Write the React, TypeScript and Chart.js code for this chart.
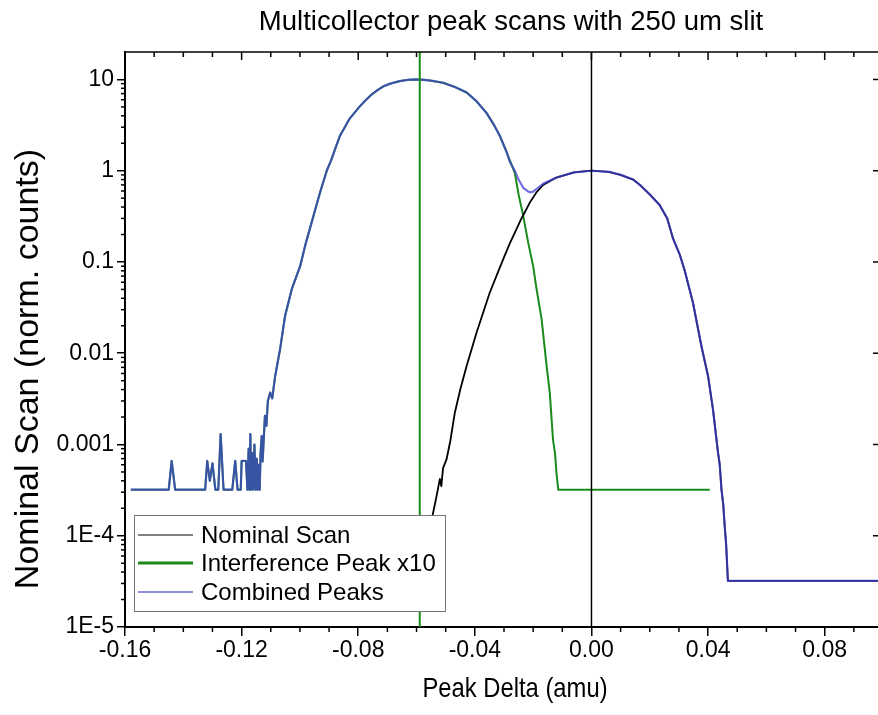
import React, { useEffect, useRef } from 'react';
import { Chart, registerables } from 'chart.js';

Chart.register(...registerables);

const W = 895;
const H = 715;
const FONT = "'Liberation Sans', Arial, sans-serif";

const titleText = 'Multicollector peak scans with 250 um slit';
const xAxisTitle = 'Peak Delta (amu)';
const yAxisTitle = 'Nominal Scan (norm. counts)';

const xMin = -0.16;
const xMax = 0.1;
const yMin = 1e-5;
const yMax = 20;

const xTickValues = [-0.16, -0.12, -0.08, -0.04, 0, 0.04, 0.08];
const xTickLabels = ['-0.16', '-0.12', '-0.08', '-0.04', '0.00', '0.04', '0.08'];
const yTickValues = [1e-5, 1e-4, 1e-3, 1e-2, 1e-1, 1, 10];
const yTickLabels = ['1E-5', '1E-4', '0.001', '0.01', '0.1', '1', '10'];

// Interference peak (x10)
const interferenceX = [
  -0.158, -0.145, -0.144, -0.1428, -0.1325, -0.1318, -0.1309, -0.13, -0.129, -0.128,
  -0.1272, -0.1262, -0.1232, -0.1222, -0.1214, -0.1203, -0.12, -0.1185, -0.118, -0.1176,
  -0.1173, -0.117, -0.1167, -0.1163, -0.116, -0.1156, -0.1152, -0.1148, -0.1145, -0.1141,
  -0.1138, -0.1135, -0.1131, -0.1128, -0.112, -0.1115, -0.111, -0.1102, -0.1095, -0.1085,
  -0.1068, -0.1051, -0.1028, -0.0999, -0.098, -0.096, -0.0945, -0.0931, -0.0908, -0.0893,
  -0.088, -0.0863, -0.083, -0.0794, -0.0775, -0.0755, -0.0735, -0.0714, -0.069, -0.0657,
  -0.063, -0.06, -0.0575, -0.055, -0.0509, -0.047, -0.0428, -0.0395, -0.036, -0.0335,
  -0.0314, -0.0291, -0.028, -0.0263, -0.025, -0.0234, -0.0217, -0.02, -0.0189, -0.0171,
  -0.0154, -0.0143, -0.0132, -0.0125, -0.012, -0.0114, 0.0406,
];
const interferenceY = [
  3.2e-4, 3.2e-4, 6.6e-4, 3.2e-4, 3.2e-4, 6.6e-4, 4.0e-4, 6.2e-4, 3.2e-4, 3.2e-4,
  1.3e-3, 3.2e-4, 3.2e-4, 6.6e-4, 3.2e-4, 3.2e-4, 6.6e-4, 6.6e-4, 3.2e-4, 9e-4,
  3.2e-4, 1.3e-3, 3.2e-4, 8e-4, 3.2e-4, 1.0e-3, 3.2e-4, 7e-4, 3.2e-4, 6e-4,
  3.2e-4, 8e-4, 1.24e-3, 6.5e-4, 2.06e-3, 1.6e-3, 3.0e-3, 3.7e-3, 3.2e-3, 5.6e-3,
  0.0111, 0.0256, 0.0503, 0.0905, 0.16, 0.27, 0.4, 0.577, 1.0, 1.3,
  1.7, 2.4, 3.7, 5.1, 5.9, 6.8, 7.6, 8.4, 9.0, 9.6,
  9.9, 10.0, 9.9, 9.7, 9.2, 8.3, 7.2, 5.8, 4.3, 3.2,
  2.4, 1.6, 1.3, 0.95, 0.55, 0.32, 0.163, 0.09, 0.052, 0.0236,
  0.0073, 0.0037, 0.00114, 0.0008, 4.9e-4, 3.2e-4, 3.2e-4,
];

// Nominal scan
const nominalX = [
  -0.06, -0.0565, -0.0543, -0.0531, -0.052, -0.0515, -0.0509, -0.0497, -0.0484, -0.0469,
  -0.045, -0.0428, -0.0394, -0.0349, -0.0303, -0.028, -0.024, -0.0234, -0.0211, -0.0189,
  -0.0166, -0.012, -0.006, 0, 0.006, 0.01, 0.0143, 0.0166, 0.02, 0.0234,
  0.026, 0.028, 0.0303, 0.032, 0.0348, 0.0377, 0.04, 0.0417, 0.0434, 0.044,
  0.0446, 0.0452, 0.0457, 0.0462, 0.0468, 0.1,
];
const nominalY = [
  2e-5, 8e-5, 1.8e-4, 2.75e-4, 4.2e-4, 3.5e-4, 5.5e-4, 6.9e-4, 1.1e-3, 2.2e-3,
  4e-3, 7.3e-3, 0.0169, 0.046, 0.107, 0.16, 0.3, 0.325, 0.45, 0.577,
  0.7, 0.842, 0.96, 1.0, 0.97, 0.9, 0.8, 0.7, 0.55, 0.42,
  0.3, 0.18, 0.12, 0.08, 0.036, 0.012, 0.0056, 0.0024, 8.2e-4, 6e-4,
  3.2e-4, 2.2e-4, 1.28e-4, 8e-5, 3.2e-5, 3.2e-5,
];

// Combined peaks: follows interference on the left, dip, then nominal
const combinedDipX = [-0.028, -0.0263, -0.025, -0.0234, -0.022, -0.0211, -0.02, -0.0189, -0.0166];
const combinedDipY = [1.25, 1.0, 0.8, 0.65, 0.6, 0.58, 0.59, 0.63, 0.72];

const interferenceCenter = -0.0589;
const nominalCenter = 0;

const GREEN = '#1a8a1a';
const COMBINED = 'rgba(65,65,210,0.74)';

const pts = (xs: number[], ys: number[]) => xs.map((x, i) => ({ x, y: ys[i] }));

const combinedData = [
  ...pts(interferenceX, interferenceY).filter((p) => p.x < -0.028),
  ...pts(combinedDipX, combinedDipY),
  ...pts(nominalX, nominalY).filter((p) => p.x > -0.0166),
];

const legendItems = [
  { label: 'Nominal Scan', color: '#000', width: 1.2 },
  { label: 'Interference Peak x10', color: GREEN, width: 3 },
  { label: 'Combined Peaks', color: '#8c8cdc', width: 2 },
];

const decorPlugin = {
  id: 'decor',
  afterDatasetsDraw(chart: any) {
    const { ctx } = chart;
    ctx.save();
    // legend box
    const bx = 134, by = 515, bw = 311, bh = 96;
    ctx.fillStyle = '#fff';
    ctx.fillRect(bx, by, bw, bh);
    ctx.strokeStyle = '#777';
    ctx.lineWidth = 1;
    ctx.strokeRect(bx + 0.5, by + 0.5, bw, bh);
    ctx.font = `24px ${FONT}`;
    ctx.textBaseline = 'middle';
    ctx.textAlign = 'left';
    const rows = [535, 563, 592];
    legendItems.forEach((it, i) => {
      ctx.strokeStyle = it.color;
      ctx.lineWidth = it.width;
      ctx.beginPath();
      ctx.moveTo(138, rows[i]);
      ctx.lineTo(193, rows[i]);
      ctx.stroke();
      ctx.fillStyle = '#000';
      ctx.fillText(it.label, 201, rows[i] + 1);
    });
    ctx.restore();
  },
  afterDraw(chart: any) {
    const { ctx, chartArea: a } = chart;
    const xs = chart.scales.x;
    const ys = chart.scales.y;
    ctx.save();
    ctx.strokeStyle = '#000';
    ctx.lineWidth = 1.5;
    // top axis line
    ctx.beginPath();
    ctx.moveTo(a.left, a.top);
    ctx.lineTo(a.right, a.top);
    ctx.stroke();
    // right axis line
    ctx.beginPath();
    ctx.moveTo(a.right, a.top);
    ctx.lineTo(a.right, a.bottom);
    ctx.stroke();
    // x ticks (top inward, bottom minor outward)
    for (let i = -16; i <= 10; i++) {
      const v = i / 100;
      const px = xs.getPixelForValue(v);
      const major = i % 4 === 0;
      ctx.beginPath();
      ctx.moveTo(px, a.top);
      ctx.lineTo(px, a.top + (major ? 8 : 5));
      ctx.stroke();
      if (!major) {
        ctx.beginPath();
        ctx.moveTo(px, a.bottom);
        ctx.lineTo(px, a.bottom + 5);
        ctx.stroke();
      }
    }
    // y minor ticks (left outward, right inward)
    for (let n = -5; n <= 1; n++) {
      for (let k = 1; k <= 9; k++) {
        const v = k * Math.pow(10, n);
        if (v <= yMin || v >= yMax) continue;
        const py = ys.getPixelForValue(v);
        if (k === 1) {
          ctx.strokeStyle = '#000';
          ctx.beginPath();
          ctx.moveTo(a.right, py);
          ctx.lineTo(a.right - 10, py);
          ctx.stroke();
          continue;
        }
        ctx.strokeStyle = '#000';
        ctx.beginPath();
        ctx.moveTo(a.left, py);
        ctx.lineTo(a.left - 4, py);
        ctx.stroke();
        ctx.strokeStyle = '#bbb';
        ctx.beginPath();
        ctx.moveTo(a.right, py);
        ctx.lineTo(a.right - 5, py);
        ctx.stroke();
      }
    }
    // titles
    ctx.fillStyle = '#000';
    ctx.textAlign = 'center';
    ctx.textBaseline = 'middle';
    ctx.font = `27.5px ${FONT}`;
    ctx.fillText(titleText, 511, 22);
    ctx.save();
    ctx.font = `28px ${FONT}`;
    ctx.translate(515, 689);
    ctx.scale(0.85, 1);
    ctx.fillText(xAxisTitle, 0, 0);
    ctx.restore();
    ctx.font = `34px ${FONT}`;
    ctx.translate(29, 369);
    ctx.rotate(-Math.PI / 2);
    ctx.fillText(yAxisTitle, 0, 0);
    ctx.restore();
  },
};

export default function App() {
  const ref = useRef<HTMLCanvasElement>(null);
  useEffect(() => {
    document.body.style.margin = '0';
    document.body.style.overflow = 'hidden';
    const canvas = ref.current!;
    const chart = new Chart(canvas, {
      type: 'line',
      data: {
        datasets: [
          {
            label: 'Nominal Scan',
            data: pts(nominalX, nominalY),
            borderColor: '#000',
            borderWidth: 1.8,
            order: 2,
          },
          {
            label: 'Interference Peak x10',
            data: pts(interferenceX, interferenceY),
            borderColor: GREEN,
            borderWidth: 2,
            order: 3,
          },
          {
            label: 'Combined Peaks',
            data: combinedData,
            borderColor: COMBINED,
            borderWidth: 2.2,
            order: 1,
          },
          {
            label: 'interference center',
            data: [
              { x: interferenceCenter, y: yMin },
              { x: interferenceCenter, y: yMax },
            ],
            borderColor: GREEN,
            borderWidth: 2,
            order: 0,
          },
          {
            label: 'nominal center',
            data: [
              { x: nominalCenter, y: yMin },
              { x: nominalCenter, y: yMax },
            ],
            borderColor: '#000',
            borderWidth: 1.5,
            order: 0,
          },
        ],
      } as any,
      options: {
        responsive: false,
        animation: false,
        devicePixelRatio: 1,
        layout: { padding: { top: 52, right: 12, left: 0, bottom: 0 } },
        elements: {
          point: { radius: 0, hoverRadius: 0 },
          line: { tension: 0, borderJoinStyle: 'round' },
        },
        plugins: { legend: { display: false }, tooltip: { enabled: false }, title: { display: false } },
        events: [],
        scales: {
          x: {
            type: 'linear',
            min: xMin,
            max: xMax,
            afterBuildTicks: (s: any) => {
              s.ticks = xTickValues.map((v) => ({ value: v }));
            },
            afterFit: (s: any) => {
              s.height = 88;
            },
            ticks: {
              autoSkip: false,
              maxRotation: 0,
              padding: 1,
              color: '#000',
              font: { family: FONT, size: 23 },
              callback: (_v: any, i: number) => xTickLabels[i],
            },
            grid: { display: true, drawOnChartArea: false, drawTicks: true, tickLength: 9, color: '#000', lineWidth: 1.5 },
            border: { display: true, color: '#000', width: 2 },
          },
          y: {
            type: 'logarithmic',
            min: yMin,
            max: yMax,
            afterBuildTicks: (s: any) => {
              s.ticks = yTickValues.map((v) => ({ value: v }));
            },
            afterFit: (s: any) => {
              s.width = 125;
            },
            ticks: {
              autoSkip: false,
              padding: 3,
              color: '#000',
              font: { family: FONT, size: 23 },
              callback: (_v: any, i: number) => yTickLabels[i],
            },
            grid: { display: true, drawOnChartArea: false, drawTicks: true, tickLength: 8, color: '#000', lineWidth: 1.5 },
            border: { display: true, color: '#000', width: 2 },
          },
        },
      } as any,
      plugins: [decorPlugin],
    });
    return () => chart.destroy();
  }, []);
  return (
    <div style={{ width: W, height: H, background: '#fff' }}>
      <canvas ref={ref} width={W} height={H} style={{ display: 'block', width: W, height: H }} />
    </div>
  );
}
